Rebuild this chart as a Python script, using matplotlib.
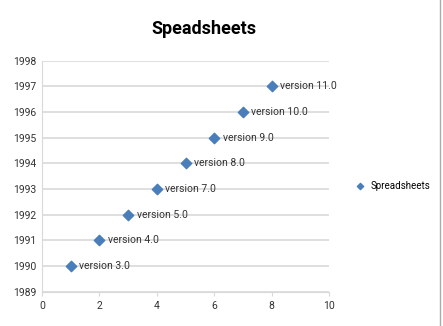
import matplotlib
matplotlib.use("Agg")
import matplotlib.pyplot as plt
from matplotlib.lines import Line2D

plt.rcParams["font.family"] = ["Roboto", "DejaVu Sans"]

# spreadsheet versions by year
x_vals = [1, 2, 3, 4, 5, 6, 7, 8]
years = [1990, 1991, 1992, 1993, 1994, 1995, 1996, 1997]
versions = ["version 3.0", "version 4.0", "version 5.0", "version 7.0",
            "version 8.0", "version 9.0", "version 10.0", "version 11.0"]

fig = plt.figure(figsize=(4.43, 3.26), dpi=100)
ax = fig.add_axes([0.095, 0.105, 0.648, 0.709])

ax.scatter(x_vals, years, marker="D", s=28, color="#4a7ebb", zorder=3,
           label="Spreadsheets")
for x, y, lab in zip(x_vals, years, versions):
    ax.annotate(lab, (x, y), xytext=(6, 0), textcoords="offset points",
                va="center", ha="left", fontsize=7.5, color="#333333")

ax.set_xlim(0, 10)
ax.set_ylim(1989, 1998)
ax.set_xticks(range(0, 11, 2))
ax.set_yticks(range(1989, 1999))
ax.grid(True, axis="y", color="#d9d9d9", linewidth=1.2)
ax.set_axisbelow(True)
for s in ["top", "right"]:
    ax.spines[s].set_visible(False)
ax.spines["left"].set_color("#d9d9d9")
ax.spines["bottom"].set_color("#d9d9d9")
ax.tick_params(axis="both", labelsize=7.5, length=0, colors="#333333", pad=4)
ax.tick_params(axis="x", length=3, color="#d9d9d9")

fig.suptitle("Speadsheets", x=0.46, y=0.94, fontsize=13, fontweight="bold")
fig.legend(loc="center left", bbox_to_anchor=(0.772, 0.43), frameon=False,
           fontsize=7, handletextpad=0.0, markerscale=0.6)

# right-hand border of the chart area
fig.add_artist(Line2D([0.993, 0.993], [0, 1], transform=fig.transFigure,
                      color="#aaaaaa", linewidth=1))

fig.savefig("out.png", dpi=100)
